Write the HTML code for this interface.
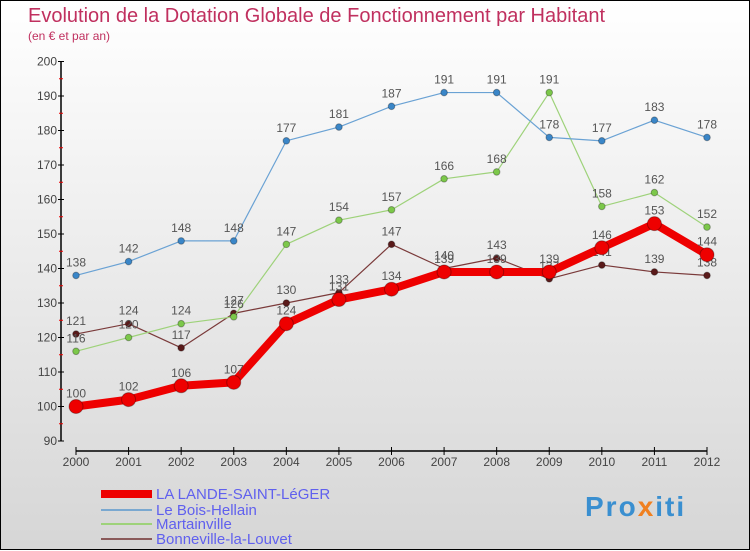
<!DOCTYPE html>
<html><head><meta charset="utf-8"><style>
html,body{margin:0;padding:0}
body{width:750px;height:550px;overflow:hidden;font-family:"Liberation Sans",sans-serif}
#wrap{position:relative;width:748px;height:548px;border:1px solid #000;background:linear-gradient(#fff,#d6d6d6)}
svg{position:absolute;left:0;top:0}
</style></head><body>
<div id="wrap">
<svg id="chart" width="750" height="550">
<text x="27" y="21" font-size="20" fill="#c0305f">Evolution de la Dotation Globale de Fonctionnement par Habitant</text>
<text x="27" y="39" font-size="12" fill="#c0305f">(en € et par an)</text>
<g id="axes"></g><g id="series"></g>
<g>
<rect x="100" y="489" width="51" height="8" fill="#e00"/>
<text x="155" y="498" font-size="15" fill="#6060ee">LA LANDE-SAINT-LéGER</text>
<line x1="100" y1="509" x2="151" y2="509" stroke="#7aa8d0" stroke-width="2"/>
<text x="155" y="514" font-size="15" fill="#6060ee">Le Bois-Hellain</text>
<line x1="100" y1="523" x2="151" y2="523" stroke="#9ed27a" stroke-width="2"/>
<text x="155" y="528" font-size="15" fill="#6060ee">Martainville</text>
<line x1="100" y1="538" x2="151" y2="538" stroke="#8a5a5a" stroke-width="2"/>
<text x="155" y="543" font-size="15" fill="#6060ee">Bonneville-la-Louvet</text>
</g>
<text x="584" y="515" font-size="28" font-weight="bold" letter-spacing="2" fill="#3a8fd0">Pro<tspan fill="#f08020">x</tspan>iti</text>
</svg>
</div>
<script>
const years=[2000,2001,2002,2003,2004,2005,2006,2007,2008,2009,2010,2011,2012];
const yTicks=[90,100,110,120,130,140,150,160,170,180,190,200];
const lande=[100,102,106,107,124,131,134,139,139,139,146,153,144];
const bois=[138,142,148,148,177,181,187,191,191,178,177,183,178];
const mart=[116,120,124,126,147,154,157,166,168,191,158,162,152];
const bonn=[121,124,117,127,130,133,147,140,143,137,141,139,138];
const NS="http://www.w3.org/2000/svg";
function xs(i){return 75+i*(706-75)/(years.length-1);}
function ys(v){return 440-(v-90)*3.45;}
function mk(tag,attrs,parent){const e=document.createElementNS(NS,tag);for(const k in attrs)e.setAttribute(k,attrs[k]);parent.appendChild(e);return e;}
const ax=document.getElementById('axes');
let yl=mk('line',{x1:60,y1:60,x2:60,y2:440,stroke:'#000','stroke-width':1.5},ax);


yTicks.forEach(t=>{const y=ys(t);
 mk('line',{x1:57,y1:y,x2:63,y2:y,stroke:'#000'},ax);
 if(t<200)mk('line',{x1:58,y1:y-17.25,x2:62,y2:y-17.25,stroke:'#e00'},ax);
 const tx=mk('text',{x:56,y:y+4,'font-size':12,'text-anchor':'end',fill:'#444'},ax);tx.textContent=t;
 
 });
let xl=mk('line',{x1:75,y1:450,x2:706,y2:450,stroke:'#000','stroke-width':1.5},ax);


years.forEach((yr,i)=>{const x=xs(i);
 mk('line',{x1:x,y1:446,x2:x,y2:454,stroke:'#000'},ax);
 const tx=mk('text',{x:x,y:465,'font-size':12,'text-anchor':'middle',fill:'#444'},ax);tx.textContent=yr;
 
 });
const sg=document.getElementById('series');
function draw(vals,name,color,w,r,dot){
 const g=mk('g',{},sg);
 
 
 mk('polyline',{points:vals.map((v,i)=>xs(i)+','+ys(v)).join(' '),fill:'none',stroke:color,'stroke-width':w,'stroke-linejoin':'round'},g);
 vals.forEach((v,i)=>{const c=mk('circle',{cx:xs(i),cy:ys(v),r:r,fill:dot,stroke:'rgba(0,0,0,0.3)'},g);
  
  
  const t=mk('text',{x:xs(i),y:ys(v)-9,'font-size':12,'text-anchor':'middle',fill:'#555'},g);t.textContent=v;});
}
draw(bonn,'bonneville','#7a3a3a',1.2,3.3,'#5a1a1a');
draw(mart,'martainville','#9ed27a',1.2,3.3,'#7cc84a');
draw(bois,'bois-hellain','#6aa2d4',1.2,3.3,'#3a86c8');
draw(lande,'lande','#e00',8,7,'#e00');
</script>
</body></html>
